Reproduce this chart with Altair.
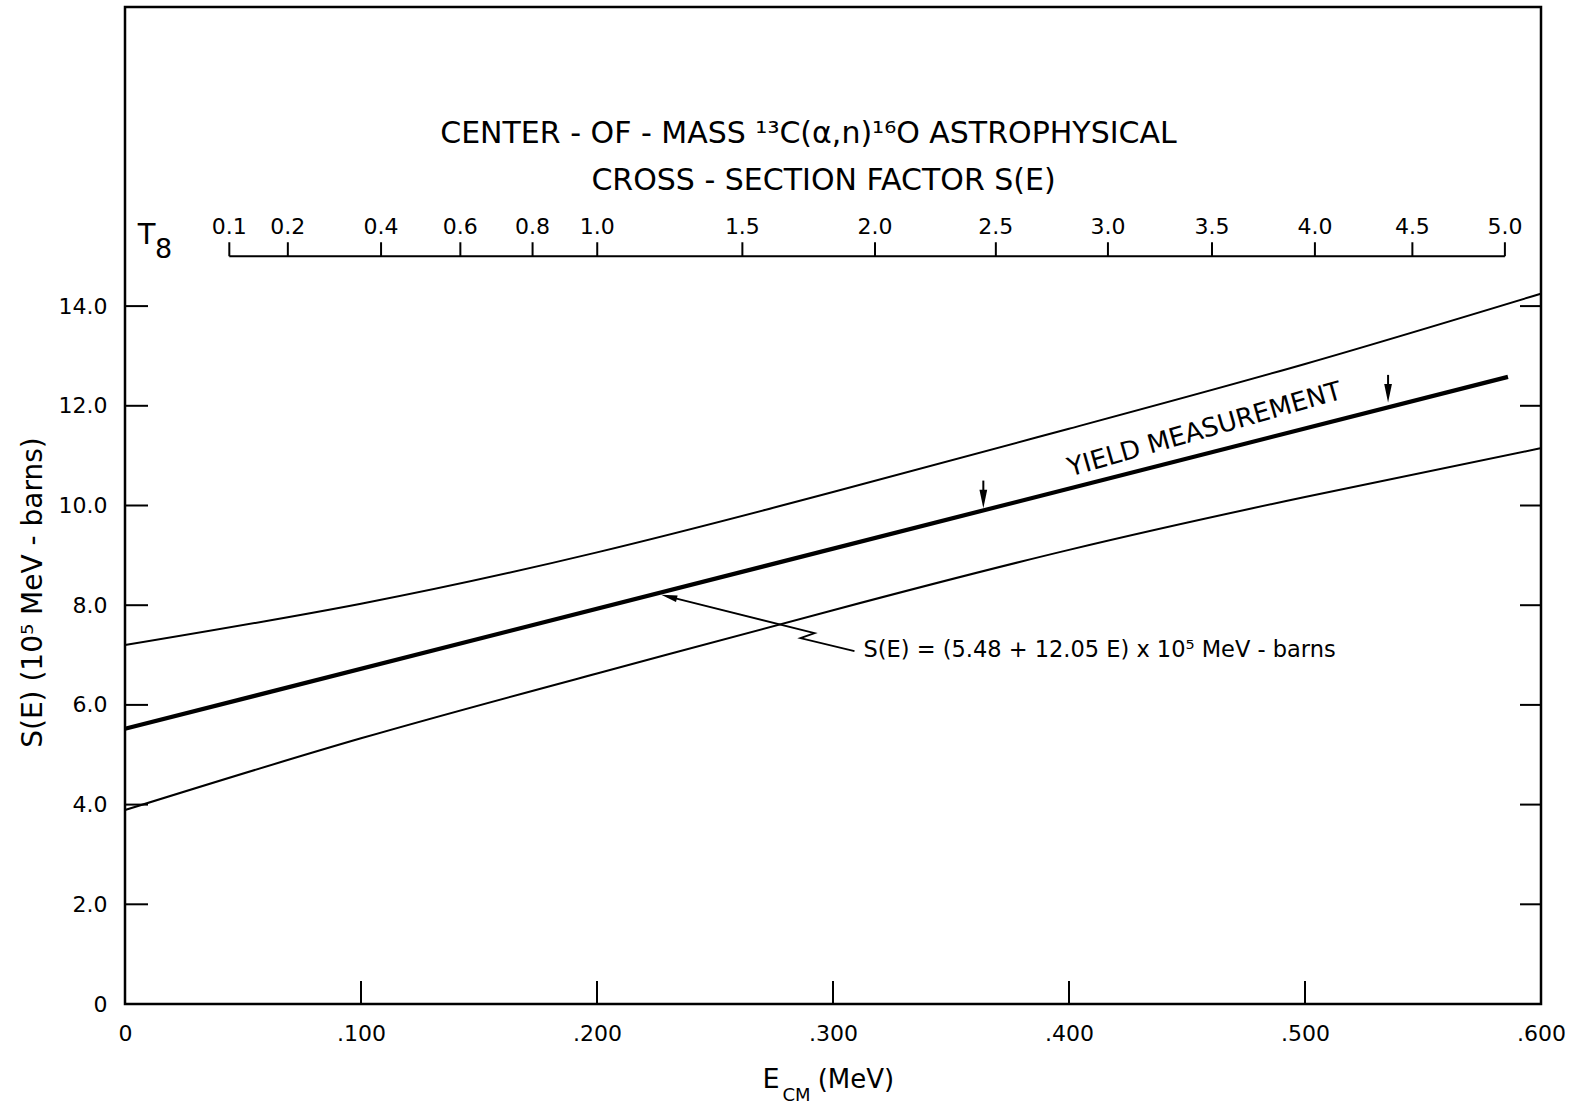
import altair as alt
import pandas as pd

FONT = "DejaVu Sans"

# ---- data ----
E_grid = [0.0, 0.1, 0.2, 0.3, 0.4, 0.5, 0.6]
S_upper = [7.20, 8.03, 9.06, 10.27, 11.54, 12.84, 14.25]
S_lower = [3.89, 5.33, 6.63, 7.90, 9.11, 10.17, 11.15]
E_fit = [0.0, 0.586]
S_fit = [5.52, 12.58]

x_tick_values = [0.0, 0.1, 0.2, 0.3, 0.4, 0.5, 0.6]
y_tick_values = [0, 2, 4, 6, 8, 10, 12, 14]
inner_x_ticks = [0.1, 0.2, 0.3, 0.4, 0.5]
inner_y_ticks = [2, 4, 6, 8, 10, 12, 14]

T8_labels = ["0.1", "0.2", "0.4", "0.6", "0.8", "1.0", "1.5",
             "2.0", "2.5", "3.0", "3.5", "4.0", "4.5", "5.0"]
T8_E = [0.0442, 0.0690, 0.1085, 0.1421, 0.1727, 0.2001, 0.2616,
        0.3178, 0.3690, 0.4165, 0.4606, 0.5042, 0.5455, 0.5847]
T8_level = 15.0
T8_label_level = 15.59

leader_E = [0.2295, 0.2922, 0.2862, 0.3091]
leader_S = [8.18, 7.44, 7.34, 7.08]
leader_head = (0.2305, 8.17)

yield_arrow_E = [0.3637, 0.5352]
yield_arrow_top = [10.50, 12.62]
yield_arrow_head = [10.13, 12.25]

title_lines = ["CENTER - OF - MASS  ¹³C(α,n)¹⁶O  ASTROPHYSICAL",
               "CROSS - SECTION  FACTOR  S(E)"]
title_E = [0.2896, 0.296]
title_S = [17.45, 16.50]

formula_text = "S(E) = (5.48 + 12.05 E) x 10⁵  MeV - barns"
formula_pos = (0.3129, 7.10)

yield_text = "YIELD  MEASUREMENT"
yield_pos = (0.4575, 11.52)

y_title = "S(E)  (10⁵  MeV - barns)"

# ---- scales and shared axes ----
xs = alt.Scale(domain=[0, 0.6], nice=False, zero=False)
ys = alt.Scale(domain=[0, 20], nice=False, zero=False)

x_axis = alt.Axis(
    values=x_tick_values,
    labelExpr="datum.value == 0 ? '0' : replace(format(datum.value, '.3f'), '0.', '.')",
    tickSize=0, domain=False, grid=False, labelPadding=19, labelFontSize=22,
    labelFlush=False, labelOverlap=False, title=None)
y_axis = alt.Axis(
    values=y_tick_values,
    labelExpr="datum.value == 0 ? '0' : format(datum.value, '.1f')",
    tickSize=0, domain=False, grid=False, labelPadding=18, labelFontSize=22,
    labelFlush=False, labelOverlap=False,
    title=y_title, titleFontSize=28, titleFontWeight="normal",
    titleAngle=270, titleX=-92, titleY=585, titleAlign="center",
    titleBaseline="middle")


def X(f):
    return alt.X(f, type="quantitative", scale=xs, axis=x_axis)


def Y(f):
    return alt.Y(f, type="quantitative", scale=ys, axis=y_axis)


ARROW_DOWN = "M-0.42,-1L0.42,-1L0,1Z"

# ---- curves ----
rows = []
for e, s in zip(E_grid, S_upper):
    rows.append({"curve": "upper", "E": e, "S": s, "sw": 2.0})
for e, s in zip(E_grid, S_lower):
    rows.append({"curve": "lower", "E": e, "S": s, "sw": 2.0})
for e, s in zip(E_fit, S_fit):
    rows.append({"curve": "fit", "E": e, "S": s, "sw": 4.2})
curves_df = pd.DataFrame(rows)

curves = alt.Chart(curves_df).mark_line(color="black", interpolate="natural").encode(
    x=X("E"), y=Y("S"),
    detail="curve:N",
    strokeWidth=alt.StrokeWidth("sw:Q", scale=None),
)

# ---- inside ticks of the frame ----
left_ticks = alt.Chart(pd.DataFrame({"E": [0.0] * len(inner_y_ticks), "S": inner_y_ticks})).mark_rule(
    color="black", strokeWidth=2, x2Offset=23).encode(x=X("E"), x2=alt.X2("E"), y=Y("S"))
right_ticks = alt.Chart(pd.DataFrame({"E": [0.6] * len(inner_y_ticks), "S": inner_y_ticks})).mark_rule(
    color="black", strokeWidth=2, x2Offset=-21).encode(x=X("E"), x2=alt.X2("E"), y=Y("S"))
bottom_ticks = alt.Chart(pd.DataFrame({"E": inner_x_ticks, "S": [0.0] * len(inner_x_ticks)})).mark_rule(
    color="black", strokeWidth=2, y2Offset=-23).encode(x=X("E"), y=Y("S"), y2=alt.Y2("S"))

# ---- T8 temperature scale ----
t8_line = alt.Chart(pd.DataFrame({"E": [T8_E[0]], "E2": [T8_E[-1]], "S": [T8_level]})).mark_rule(
    color="black", strokeWidth=2).encode(x=X("E"), x2=alt.X2("E2"), y=Y("S"))
t8_ticks = alt.Chart(pd.DataFrame({"E": T8_E, "S": [T8_level] * len(T8_E)})).mark_rule(
    color="black", strokeWidth=2, y2Offset=-14).encode(x=X("E"), y=Y("S"), y2=alt.Y2("S"))

# ---- centred texts ----
ctext_rows = []
for t, e, s in zip(title_lines, title_E, title_S):
    ctext_rows.append({"text": t, "E": e, "S": s, "fs": 30, "ang": 0})
for t, e in zip(T8_labels, T8_E):
    ctext_rows.append({"text": t, "E": e, "S": T8_label_level, "fs": 22, "ang": 0})
ctext_rows.append({"text": "T", "E": 0.0092, "S": 15.42, "fs": 29, "ang": 0})
ctext_rows.append({"text": "8", "E": 0.0164, "S": 15.12, "fs": 27, "ang": 0})
ctext_rows.append({"text": yield_text, "E": yield_pos[0], "S": yield_pos[1], "fs": 26, "ang": 344})
ctext = alt.Chart(pd.DataFrame(ctext_rows)).mark_text(
    font=FONT, color="black", align="center", baseline="middle").encode(
    x=X("E"), y=Y("S"), text="text:N",
    size=alt.Size("fs:Q", scale=None),
    angle=alt.Angle("ang:Q", scale=None))

# ---- left-aligned texts (formula, x-axis title with subscript) ----
ltext_rows = [
    {"text": formula_text, "E": formula_pos[0], "S": formula_pos[1], "fs": 22.5},
    {"text": "E", "E": 0.2701, "S": -1.53, "fs": 27},
    {"text": "CM", "E": 0.2786, "S": -1.84, "fs": 18},
    {"text": "(MeV)", "E": 0.2935, "S": -1.53, "fs": 26},
]
ltext = alt.Chart(pd.DataFrame(ltext_rows)).mark_text(
    font=FONT, color="black", align="left", baseline="middle").encode(
    x=X("E"), y=Y("S"), text="text:N", size=alt.Size("fs:Q", scale=None))

# ---- leader line with arrowhead ----
leader = alt.Chart(pd.DataFrame({"E": leader_E, "S": leader_S, "k": list(range(len(leader_E)))})).mark_line(
    color="black", strokeWidth=1.8).encode(x=X("E"), y=Y("S"), order="k:Q")

shafts = alt.Chart(pd.DataFrame({"E": yield_arrow_E, "S": yield_arrow_top, "S2": yield_arrow_head})).mark_rule(
    color="black", strokeWidth=2).encode(x=X("E"), y=Y("S"), y2=alt.Y2("S2"))

heads_df = pd.DataFrame({
    "E": [leader_head[0]] + yield_arrow_E,
    "S": [leader_head[1]] + yield_arrow_head,
    "ang": [104, 0, 0],
    "sz": [260, 340, 340],
})
heads = alt.Chart(heads_df).mark_point(shape=ARROW_DOWN, filled=True, color="black", opacity=1).encode(
    x=X("E"), y=Y("S"), angle=alt.Angle("ang:Q", scale=None),
    size=alt.Size("sz:Q", scale=None))

chart = alt.layer(
    curves, left_ticks, right_ticks, bottom_ticks, t8_line, t8_ticks,
    ctext, ltext, leader, shafts, heads,
).properties(
    width=1416, height=997,
    autosize=alt.AutoSizeParams(type="none"),
    padding={"left": 125, "top": 7, "right": 40, "bottom": 103},
    background="white",
).configure_view(
    stroke="black", strokeWidth=2.5,
).configure_axis(
    labelFont=FONT, titleFont=FONT, labelColor="black", titleColor="black",
)

chart.save("out.html", embed_options={"renderer": "svg", "actions": False})
